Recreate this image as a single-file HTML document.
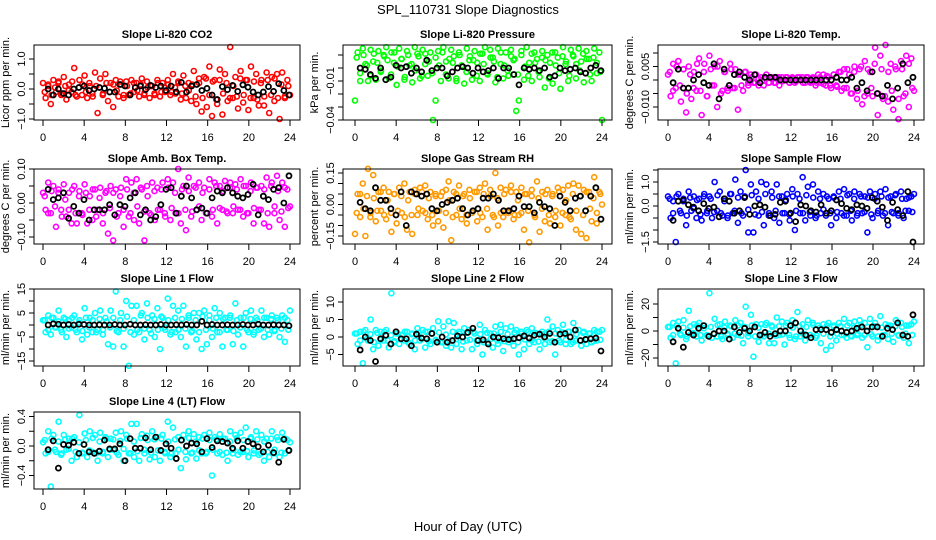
<!DOCTYPE html>
<html><head><meta charset="utf-8"><title>SPL_110731 Slope Diagnostics</title>
<style>
html,body{margin:0;padding:0;background:#fff;}
svg{display:block;font-family:"Liberation Sans",Arial,sans-serif;}
</style></head>
<body>
<svg id="chart" width="936" height="540" viewBox="0 0 936 540" xmlns="http://www.w3.org/2000/svg">
<text x="468" y="14" font-size="13" text-anchor="middle">SPL_110731  Slope Diagnostics</text>
<text x="468" y="531" font-size="13" text-anchor="middle">Hour of Day (UTC)</text>
</svg>
<script>
const hourTicks = [0,4,8,12,16,20,24];

const co2Color = [0.2,-0.3,0.1,-0.5,0.3,-0.1,0.25,-0.2,0.4,-0.35,0.15,-0.1,0.7,-0.25,0.3,-0.2,0.45,-0.3,0.1,-0.15,0.55,-0.8,0.35,-0.2,0.5,-0.4,0.2,-0.6,0.3,-0.25,0.15,-0.3,0.25,-0.2,0.3,-0.1,0.2,-0.25,0.35,-0.15,0.25,-0.3,0.1,-0.2,0.3,-0.25,0.2,-0.1,0.3,-0.2,0.5,-0.15,0.25,-0.35,0.45,-0.3,0.2,-0.4,0.6,-0.5,0.35,-0.75,0.4,-0.6,0.75,-0.9,0.3,-0.5,0.65,-0.85,0.5,-0.4,1.4,-0.3,0.4,-0.65,0.6,-0.45,0.3,-0.7,0.75,-0.3,0.5,-0.55,0.3,-0.55,0.55,-0.8,0.4,-0.4,0.5,-1.0,0.55,-0.3,0.3,-0.2];
const co2Core = [-0.1,0.15,-0.2,0.05,0.2,-0.15,0.1,-0.05,0.25,-0.2,0.05,0.15,-0.1,0.2,-0.25,0.1,0.05,-0.15,0.2,-0.1,0.15,-0.05,0.25,-0.2,0.1,-0.15,0.2,-0.05,0.15,-0.2,0.05,0.1,-0.15,0.2,-0.1,0.05,0.15,-0.1,0.05,0.2,-0.15,0.1,-0.05,0.15,-0.25,0.2,-0.3,0.35,-0.2,0.25,-0.35,0.3,-0.15,0.2,-0.3,0.1,-0.25,0.35,-0.2,0.3,-0.3,0.25,-0.35,0.2,-0.25,0.3,-0.2,0.35,-0.3,0.15,-0.25,0.1];
const co2Black = [0,-0.2,0,-0.15,-0.2,0,0.05,0.1,-0.05,0,0.05,0.02,-0.1,-0.1,0.15,0.1,-0.2,0.05,0.1,-0.02,0.12,0.05,0.1,-0.05,0.1,-0.1,0.22,-0.1,0.1,0.15,-0.05,0.02,-0.2,-0.35,0.08,-0.02,0.12,-0.08,0.14,0.06,-0.1,-0.2,-0.1,0.08,-0.08,0.18,-0.05,-0.2];

const presColor = [-0.025,0.012,-0.01,0.015,0.003,-0.01,0.014,0.005,-0.009,0.013,-0.002,0.01,0.016,-0.008,0.012,0.004,-0.013,0.015,0.007,-0.009,0.013,0.002,-0.011,0.016,0.011,-0.008,0.014,0.003,-0.006,0.012,-0.04,-0.025,0.013,-0.01,0.016,0.005,-0.008,0.014,0.009,-0.01,0.012,0.002,-0.012,0.015,0.006,-0.009,0.013,0.004,-0.01,0.011,0.016,-0.005,0.014,0.008,-0.011,0.015,0.003,-0.008,0.012,-0.006,0.014,0.006,-0.033,-0.025,0.013,-0.009,0.016,0.004,-0.01,0.012,0.007,-0.007,0.013,-0.015,0.01,0.004,-0.012,0.012,0.008,-0.016,0.016,0.003,-0.01,0.014,0.009,-0.008,0.015,0.005,-0.011,0.013,0.007,-0.01,0.015,-0.004,0.012,-0.04];
const presCore = [0.008,-0.004,0.01,0.002,-0.006,0.011,0.004,-0.003,0.009,0.006,-0.005,0.012,0.001,0.007,-0.007,0.01,0.003,-0.002,0.009,-0.006,0.011,0.005,-0.004,0.008,0.002,0.012,-0.005,0.007,0.004,-0.008,0.01,0.001,-0.003,0.009,0.006,-0.006,0.011,0.003,-0.004,0.008,0.005,-0.007,0.012,0.002,-0.002,0.009,0.007,-0.005,0.01,0.001,-0.006,0.011,0.004,-0.003,0.008,0.006,-0.008,0.012,0.002,-0.004,0.009,0.005,-0.006,0.01,0.003,-0.002,0.011,0.007,-0.005,0.008,0.004,-0.003];
const presBlack = [0,-0.001,-0.005,-0.008,0,-0.009,-0.007,0.002,0,0.001,-0.004,0,-0.003,0.006,-0.002,0,0,-0.006,-0.003,0,0.001,0,-0.004,0,-0.003,-0.002,0,-0.008,0,0,-0.005,-0.013,0,-0.001,0,-0.002,0,-0.007,-0.006,0,-0.002,-0.001,0,-0.003,-0.004,0,0.002,-0.002];

const tempColor = [0.002,-0.006,0.006,-0.003,0.007,-0.008,0.004,-0.012,0.005,-0.007,0.003,-0.004,0.008,-0.013,0.006,-0.006,0.009,-0.002,0.005,-0.010,0.007,-0.004,0.003,-0.003,0.006,-0.003,0.004,-0.011,0.002,-0.004,0.003,-0.002,0.002,-0.001,0.002,-0.002,0.001,-0.002,0.002,-0.001,0.001,-0.001,0.001,-0.002,0.001,0,0.001,-0.001,0.001,-0.001,0.001,0,0.001,-0.001,0.001,-0.001,0.001,-0.002,0.002,-0.001,0.002,-0.002,0.001,-0.003,0.002,-0.002,0.003,-0.004,0.004,-0.003,0.002,-0.005,0.005,-0.007,0.004,-0.009,0.007,-0.005,0.003,-0.006,0.012,-0.013,0.009,-0.007,0.013,-0.008,0.006,-0.011,0.004,-0.0145,0.007,-0.006,0.009,-0.01,0.008,-0.004];
const tempCore = [0.003,-0.004,0.005,-0.002,0.004,-0.005,0.002,-0.003,0.006,-0.004,0.003,-0.006,0.004,-0.002,0.005,-0.005,0.003,-0.004,0.004,-0.003,0.002,-0.002,0.003,-0.001,0.001,-0.001,0.0005,-0.0005,0.001,-0.001,0.0005,-0.001,0.001,-0.0005,0.001,-0.001,0.0005,-0.0005,0.001,-0.001,0.001,-0.0005,0.0005,-0.001,0.001,-0.0015,0.0015,-0.002,0.002,-0.0025,0.003,-0.003,0.004,-0.005,0.003,-0.004,0.005,-0.006,0.004,-0.003,0.006,-0.005,0.004,-0.006,0.003,-0.004,0.005,-0.007,0.004,-0.005,0.006,-0.003];
const tempBlack = [-0.001,0.004,-0.003,-0.003,0,0.002,-0.001,-0.002,0.006,-0.007,0.004,-0.002,0.002,0.003,0.001,0,0.002,-0.001,0.001,0.001,0.001,0,0,0,0,0,0,0,0,0,0,0,0.001,0,0,0.001,-0.003,-0.001,-0.004,0.003,-0.005,-0.006,-0.002,-0.007,-0.003,0.006,-0.001,0.001];

const ambColor = [0.03,-0.02,0.06,-0.03,0.05,-0.07,0.04,-0.02,0.055,-0.04,0.03,-0.06,0.05,-0.06,0.035,-0.03,0.055,-0.06,0.02,-0.05,0.04,-0.02,0.045,-0.06,0.03,-0.09,0.05,-0.11,0.04,-0.03,0.045,-0.07,0.07,-0.04,0.06,-0.05,0.07,-0.06,0.04,-0.11,0.05,-0.03,0.06,-0.05,0.045,-0.02,0.06,-0.04,0.07,-0.05,0.06,-0.03,0.1,-0.06,0.05,-0.08,0.075,-0.04,0.05,-0.02,0.06,-0.05,0.045,-0.03,0.07,-0.04,0.06,-0.06,0.05,-0.02,0.065,-0.03,0.06,-0.03,0.055,-0.02,0.07,-0.04,0.05,-0.03,0.06,-0.06,0.045,-0.02,0.05,-0.06,0.075,-0.07,0.06,-0.03,0.08,-0.05,0.06,-0.07,0.04,-0.01];
const ambCore = [0.02,-0.03,0.035,-0.01,0.03,-0.04,0.01,-0.02,0.04,-0.03,0.02,-0.035,0.03,-0.02,0.04,-0.04,0.015,-0.03,0.035,-0.015,0.03,-0.04,0.02,-0.02,0.04,-0.03,0.03,-0.01,0.045,-0.025,0.02,-0.035,0.035,-0.02,0.04,-0.03,0.045,-0.015,0.03,-0.03,0.04,-0.02,0.035,-0.025,0.045,-0.01,0.03,-0.03,0.04,-0.02,0.05,-0.015,0.035,-0.025,0.045,-0.01,0.04,-0.02,0.05,-0.03,0.035,-0.015,0.045,-0.02,0.04,-0.03,0.05,-0.01,0.035,-0.025,0.045,-0.015];
const ambBlack = [0.04,0.01,0.015,0.03,-0.045,-0.01,-0.03,0.01,-0.05,-0.02,-0.02,-0.02,-0.005,-0.035,-0.005,-0.01,0.015,0.03,-0.035,-0.02,-0.05,-0.04,-0.005,0.04,0.045,-0.03,0.02,0.05,0.015,-0.02,-0.015,-0.03,0.015,0.035,0.03,0.045,0.03,0.02,0.015,0.025,0.055,-0.035,0.02,0.01,0.04,0.045,0,0.08];

const rhColor = [-0.14,0.05,-0.06,0.1,-0.15,0.17,-0.04,0.14,-0.08,0.06,-0.03,0.08,-0.07,0.06,-0.13,0.05,-0.09,0.08,-0.04,0.1,-0.12,0.06,-0.14,0.07,-0.05,0.08,-0.03,0.09,-0.07,0.06,-0.1,0.05,-0.08,0.04,-0.11,0.07,0.11,-0.17,0.06,-0.05,0.09,-0.07,0.05,-0.09,0.07,-0.04,0.06,-0.08,0.08,-0.06,0.1,-0.12,0.07,-0.05,0.15,-0.1,0.08,-0.06,0.07,-0.04,0.09,-0.07,0.06,-0.05,0.08,-0.12,0.05,-0.18,0.07,-0.05,0.11,-0.13,0.06,-0.08,0.07,-0.09,0.05,-0.06,0.08,-0.1,0.07,-0.05,0.09,-0.07,0.1,-0.12,0.09,-0.14,0.07,-0.16,0.06,-0.08,0.13,-0.09,0.06,0];
const rhCore = [-0.04,0.05,-0.02,0.04,-0.06,0.03,-0.03,0.06,-0.05,0.02,-0.04,0.05,-0.03,0.04,-0.06,0.02,-0.05,0.05,-0.02,0.06,-0.04,0.03,-0.05,0.04,-0.03,0.06,-0.04,0.02,-0.06,0.05,-0.02,0.04,-0.05,0.03,-0.03,0.06,-0.04,0.05,-0.02,0.04,-0.06,0.03,-0.04,0.05,-0.03,0.06,-0.05,0.02,-0.04,0.05,-0.03,0.04,-0.06,0.03,-0.02,0.05,-0.05,0.04,-0.03,0.06,-0.04,0.02,-0.06,0.05,-0.03,0.04,-0.05,0.06,-0.02,0.03,-0.04,0.05];
const rhBlack = [0.01,-0.02,-0.03,0.08,0.02,0.02,-0.02,-0.05,0.06,-0.1,0.06,0.05,0.04,0.05,-0.02,-0.03,0,0.01,0.02,0.03,-0.02,-0.05,-0.03,-0.02,0.03,0.03,0.05,0.02,-0.03,-0.03,-0.02,0.04,-0.01,-0.01,-0.04,0.01,-0.01,-0.02,-0.1,0.04,0.01,-0.03,0.03,0.04,-0.03,0.04,0.08,-0.07];

const flowColor = [0.4,-0.5,0.2,-1.5,0.5,-0.3,0.3,-0.8,0.6,-0.2,0.4,-0.5,0.3,-0.6,0.5,-0.3,0.4,-0.5,1.0,-0.2,0.6,-0.4,0.3,-0.5,0.5,-0.3,1.1,-0.7,0.6,-0.4,1.5,-1.1,0.9,-1.1,0.6,-0.4,1.0,-0.8,0.9,-0.3,0.6,-0.5,0.9,-0.7,0.4,-0.3,0.5,-0.6,0.7,-1.0,0.5,-0.3,1.2,-0.6,0.8,-0.4,0.9,-0.5,0.6,-0.3,0.5,-0.4,0.3,-0.8,0.4,-0.5,0.6,-0.3,0.7,-0.4,0.5,-0.6,0.6,-0.4,0.5,-0.3,0.4,-1.1,0.6,-0.5,0.5,-0.3,0.6,-0.4,0.7,-0.8,0.4,-0.3,0.5,-0.4,0.6,-0.5,0.3,-0.2,0.4,0.5];
const flowCore = [0.3,-0.3,0.4,-0.2,0.2,-0.4,0.35,-0.1,0.25,-0.35,0.4,-0.2,0.3,-0.25,0.45,-0.3,0.2,-0.4,0.5,-0.2,0.35,-0.3,0.4,-0.15,0.45,-0.35,0.3,-0.25,0.5,-0.4,0.35,-0.2,0.4,-0.3,0.25,-0.35,0.4,-0.2,0.3,-0.3,0.45,-0.25,0.35,-0.4,0.3,-0.15,0.4,-0.3,0.35,-0.25,0.3,-0.4,0.45,-0.2,0.3,-0.3,0.4,-0.25,0.35,-0.35,0.3,-0.2,0.4,-0.3,0.35,-0.25,0.45,-0.3,0.3,-0.2,0.35,-0.25];
const flowBlack = [-0.6,0.2,0.25,0.05,-0.05,-0.2,0.1,-0.1,-0.05,-0.45,0.3,0.2,-0.3,-0.2,0.35,-0.35,0,0.05,-0.05,-0.4,-0.35,0.15,0.2,-0.3,-0.65,0.05,0,-0.2,-0.25,0.05,-0.3,-0.2,0.25,0.1,-0.1,-0.15,0.05,0,-0.1,0.35,0.2,-0.05,-0.6,0.15,-0.15,-0.4,0.6,-1.5];

const line1Color = [2,-3,4,-4,3,-1,6,-2,3,-5,2,-1,4,-3,2,-6,7,-4,3,-3,5,-2,6,-4,3,-8,6,-9,14,-3,5,-9,10,-17,8,-4,8,-3,5,-6,9,-2,4,-5,7,-10,3,-2,11,-4,8,-3,6,-5,8,-9,4,-3,5,-6,5,-10,6,-8,4,-5,7,-3,5,-9,3,-2,4,-8,9,-4,3,-9,5,-3,6,-4,3,-2,6,-5,3,-4,4,-2,3,-5,4,-7,2,6];
const line1Core = [2,-2,3,-1,1.5,-3,2.5,-1.5,3,-2,1,-2.5,3,-1,2,-3,2.5,-2,1.5,-1,3,-2.5,2,-1.5,3.5,-3,2,-2,4,-1.5,3,-3.5,2.5,-2,3.5,-1,2,-3,3,-2,2.5,-1.5,3,-2.5,2,-3,3.5,-2,2,-1.5,3,-3,2.5,-2,3,-2.5,2,-1,3,-2,2.5,-3,2,-1.5,3,-2,2.5,-2.5,2,-1.5,3,-2];
const line1Black = [0,0.5,0.3,0,0.2,0,0.3,0.2,0,0,0.1,0,0,0.2,0,0,0.3,0,0,0.1,0,0,0.2,0,0,0.1,0,0.2,0,0,1.5,0,0.2,0,0,0.1,0,0,0.2,0,0,0.3,0,0,0.1,0,0,-0.3];

const line2Color = [1,-2,1.5,-7.5,2,-1,5,-3.5,2,-2.5,1.5,-1,2,-3,12.5,-1.5,1,-2,0.5,-1,1.5,-2,1,-3.5,2.5,-1,2,-3,1.5,-2,2.5,-1,4.5,-1.5,3,-2.5,4.5,-3,4,-2,1.5,-3.5,2.5,-1,2,-3.5,1,-2,3.5,-5,2,-1.5,1,-3,3,-2,3.5,-4,2.5,-1.5,3,-2.5,2,-5,1.5,-3.5,2,-2,2.5,-1.5,1,-3.5,1.5,-2,5,-1.5,3,-5,2,-1.5,3.5,-2,1.5,-2,4,-1,2,-2.5,1.5,-2,1,-1.5,2,-1,1.5,2];
const line2Core = [1,-1,1.5,-0.5,0.8,-1.5,1.2,-0.8,1.5,-1,0.5,-1.2,1,-0.6,1.5,-1.5,0.8,-1,1.2,-0.5,1.5,-1.2,1,-0.8,1.3,-1.5,0.7,-1,1.5,-0.6,1,-1.3,1.2,-0.8,1.5,-1,0.8,-1.5,1.2,-0.6,1,-1,1.5,-1.2,0.8,-0.8,1.3,-1.5,1,-0.7,1.5,-1,1.2,-1.3,0.8,-0.6,1.5,-1.2,1,-1,1.3,-0.8,1.5,-1.5,0.8,-1,1.2,-0.7,1,-1.2,1.5,-0.8];
const line2Black = [-3.7,0,-1,-7,-0.5,0.5,-2,1.5,-0.5,-0.5,-2.5,0.8,-0.3,-0.5,1,-1.5,0,-1.5,-1,0.3,0,1.3,2.5,-1,-0.8,-2,0,-0.2,-0.5,-0.7,-0.5,-0.2,0.3,-0.3,0.5,0.8,0,1,-1.5,0.8,1,0,2,-1,-0.7,-0.5,-0.3,-4];

const line3Color = [3,-5,6,-24,7,-3,8,-6,15,-2,5,-4,6,-7,4,-3,28,-5,9,-4,5,-6,7,-2,4,-5,8,-3,6,-9,18,-4,12,-19,5,-8,5,-4,6,-9,4,-9,10,-3,7,-10,6,-5,8,-6,14,-4,5,-7,8,-3,6,-5,4,-9,5,-14,6,-11,4,-7,6,-3,9,-5,6,-4,7,-3,8,-5,6,-12,9,-4,6,-7,11,-3,5,-6,4,-8,8,-3,6,-5,4,-9,5,7];
const line3Core = [3,-3,4,-2,2.5,-4,3.5,-1.5,4,-3,2,-3.5,3,-2,4.5,-4,2.5,-3,3.5,-2,4,-3.5,3,-1.5,4,-4,2.5,-3,4.5,-2,3,-3.5,3.5,-2.5,4,-3,2.5,-4,3.5,-2,3,-3,4.5,-3.5,2.5,-2,4,-4,3,-2,3.5,-3,4,-3.5,2.5,-2,4.5,-3,3,-2.5,3.5,-4,2.5,-3,4,-2,3.5,-3.5,3,-2,4,-3];
const line3Black = [-8,2,-12,-1,-3,2,4,-4,-2,0,0,-6,3,-1,2,0,3,-3,-1,-4,-2,0,0,4,6,0,-3,-5,1,1,1,-1,1,0,-1,0,2,3,0,3,3,-4,2,1,6,-3,-4,12];

const line4Color = [0.05,-0.1,0.2,-0.55,0.15,-0.08,0.33,-0.12,0.15,-0.05,0.1,-0.2,0.12,-0.15,0.42,-0.1,0.17,-0.15,0.2,-0.08,0.15,-0.2,0.18,-0.1,0.12,-0.15,0.1,-0.05,0.18,-0.12,0.2,-0.2,0.15,-0.1,0.3,-0.15,0.3,-0.2,0.16,-0.1,0.14,-0.18,0.2,-0.15,0.12,-0.2,0.15,-0.1,0.33,-0.15,0.25,-0.1,0.12,-0.3,0.15,-0.18,0.2,-0.1,0.16,-0.17,0.12,-0.1,0.15,-0.08,0.18,-0.4,0.12,-0.1,0.16,-0.12,0.1,-0.2,0.2,-0.1,0.15,-0.12,0.18,-0.08,0.25,-0.15,0.12,-0.1,0.2,-0.12,0.15,-0.2,0.1,-0.15,0.2,-0.1,0.12,-0.15,0.18,-0.1,0.08,0.05];
const line4Core = [0.08,-0.08,0.1,-0.05,0.06,-0.1,0.09,-0.04,0.1,-0.08,0.05,-0.09,0.08,-0.06,0.11,-0.1,0.06,-0.08,0.1,-0.05,0.09,-0.09,0.07,-0.04,0.1,-0.1,0.06,-0.07,0.11,-0.05,0.08,-0.09,0.09,-0.06,0.1,-0.08,0.06,-0.1,0.09,-0.05,0.08,-0.08,0.11,-0.09,0.06,-0.06,0.1,-0.1,0.08,-0.05,0.09,-0.08,0.1,-0.09,0.06,-0.05,0.11,-0.08,0.08,-0.07,0.1,-0.06,0.09,-0.1,0.06,-0.08,0.1,-0.05,0.08,-0.09,0.1,-0.06];
const line4Black = [-0.05,0.07,-0.3,0.02,0.01,0.05,-0.1,0.02,-0.08,-0.1,-0.07,0.08,-0.04,-0.04,0.03,-0.2,0.1,-0.03,-0.03,0.11,-0.05,0.12,-0.06,0.03,-0.03,-0.17,0.08,0,0.04,0.03,-0.08,0.1,-0.02,0.07,0.06,0.04,-0.03,0.07,-0.03,0.06,0.03,-0.01,-0.08,0.01,-0.09,-0.22,0.09,-0.06];

const cols = [{l:34,r:300,x0:43,x1:290},{l:343,r:612,x0:355,x1:602},{l:658,r:924,x0:668,x1:914}];
const rows = [{t:45,b:120},{t:169,b:244},{t:289,b:366},{t:412,b:489}];
const panels = [
 {name:'co2',title:'Slope Li-820 CO2',ylab:'Licor ppm per min.',col:0,row:0,color:'#ff0000',c:co2Color,m:co2Core,k:co2Black,zeroPx:89,pxPerUnit:30,ticks:[-1,-0.5,0,0.5,1],labels:[[-1,'\u22121.0'],[0,'0.0'],[1,'1.0']]},
 {name:'pressure',title:'Slope Li-820 Pressure',ylab:'kPa per min.',col:1,row:0,color:'#00ff00',c:presColor,m:presCore,k:presBlack,zeroPx:68,pxPerUnit:1300,ticks:[-0.04,-0.03,-0.02,-0.01,0,0.01],labels:[[-0.04,'\u22120.04'],[-0.01,'\u22120.01']]},
 {name:'temp',title:'Slope Li-820 Temp.',ylab:'degrees C per min.',col:2,row:0,color:'#ff00ff',c:tempColor,m:tempCore,k:tempBlack,zeroPx:80,pxPerUnit:2700,ticks:[-0.01,-0.005,0,0.005,0.01],labels:[[-0.01,'\u22120.010'],[0.005,'0.005']]},
 {name:'amb-box-temp',title:'Slope Amb. Box Temp.',ylab:'degrees C per min.',col:0,row:1,color:'#ff00ff',c:ambColor,m:ambCore,k:ambBlack,zeroPx:203,pxPerUnit:340,ticks:[-0.1,-0.05,0,0.05,0.1],labels:[[-0.1,'\u22120.10'],[0,'0.00'],[0.1,'0.10']]},
 {name:'gas-stream-rh',title:'Slope Gas Stream RH',ylab:'percent per min.',col:1,row:1,color:'#ff9900',c:rhColor,m:rhCore,k:rhBlack,zeroPx:204.5,pxPerUnit:210,ticks:[-0.15,-0.1,-0.05,0,0.05,0.1,0.15],labels:[[-0.15,'\u22120.15'],[0,'0.00'],[0.15,'0.15']]},
 {name:'sample-flow',title:'Slope Sample Flow',ylab:'ml/min per min.',col:2,row:1,color:'#0000ff',c:flowColor,m:flowCore,k:flowBlack,zeroPx:206,pxPerUnit:24,ticks:[-1.5,-1,-0.5,0,0.5,1,1.5],labels:[[-1.5,'\u22121.5'],[0,'0.0'],[1,'1.0']]},
 {name:'line1-flow',title:'Slope Line 1 Flow',ylab:'ml/min per min.',col:0,row:2,color:'#00ffff',c:line1Color,m:line1Core,k:line1Black,zeroPx:325,pxPerUnit:2.4,ticks:[-15,-10,-5,0,5,10,15],labels:[[-15,'\u221215'],[-5,'\u22125'],[5,'5'],[15,'15']]},
 {name:'line2-flow',title:'Slope Line 2 Flow',ylab:'ml/min per min.',col:1,row:2,color:'#00ffff',c:line2Color,m:line2Core,k:line2Black,zeroPx:337,pxPerUnit:3.5,ticks:[-5,0,5,10],labels:[[-5,'\u22125'],[0,'0'],[5,'5'],[10,'10']]},
 {name:'line3-flow',title:'Slope Line 3 Flow',ylab:'ml/min per min.',col:2,row:2,color:'#00ffff',c:line3Color,m:line3Core,k:line3Black,zeroPx:331,pxPerUnit:1.35,ticks:[-20,-10,0,10,20],labels:[[-20,'\u221220'],[0,'0'],[20,'20']]},
 {name:'line4-flow',title:'Slope Line 4 (LT) Flow',ylab:'ml/min per min.',col:0,row:3,color:'#00ffff',c:line4Color,m:line4Core,k:line4Black,zeroPx:446,pxPerUnit:73.75,ticks:[-0.4,-0.2,0,0.2,0.4],labels:[[-0.4,'\u22120.4'],[0,'0.0'],[0.4,'0.4']]}
];

const NS='http://www.w3.org/2000/svg';
const svg=document.getElementById('chart');
function mk(tag,attrs,parent){const e=document.createElementNS(NS,tag);for(const k in attrs)e.setAttribute(k,attrs[k]);parent.appendChild(e);return e;}

panels.forEach(p=>{
  const C=cols[p.col],R=rows[p.row];
  const g=mk('g',{},svg);
  
  
  const xs=h=>C.x0+(C.x1-C.x0)*h/24;
  const ys=v=>p.zeroPx-v*p.pxPerUnit;
  const t=mk('text',{x:(C.l+C.r)/2,y:R.t-7,'font-size':11,'font-weight':'bold','text-anchor':'middle'},g);
  
  
  t.textContent=p.title;
  const pts=mk('g',{fill:'none'},g);
  
  
  const n=p.c.length;
  p.c.forEach((v,i)=>{
    const c=mk('circle',{cx:xs(i*24/(n-1)),cy:ys(v),r:2.5,stroke:p.color,'stroke-width':1.6},pts);
    
    
  });
  const q=p.m.length;
  p.m.forEach((v,i)=>{
    const c=mk('circle',{cx:xs((i+0.5)*24/q),cy:ys(v),r:2.5,stroke:p.color,'stroke-width':1.6},pts);
    
    
  });
  const m=p.k.length;
  p.k.forEach((v,i)=>{
    const c=mk('circle',{cx:xs(0.5+i*23.4/(m-1)),cy:ys(v),r:2.5,stroke:'#000','stroke-width':1.8},pts);
    
    
  });
  const b=mk('rect',{x:C.l,y:R.t,width:C.r-C.l,height:R.b-R.t,fill:'none',stroke:'#000','stroke-width':1},g);
  
  
  const xa=mk('g',{},g);
  
  
  hourTicks.forEach(h=>{
    mk('line',{x1:xs(h),x2:xs(h),y1:R.b,y2:R.b+6,stroke:'#000'},xa);
    const tl=mk('text',{x:xs(h),y:R.b+21,'font-size':11,'text-anchor':'middle'},xa);
    
    
    tl.textContent=h;
  });
  const ya=mk('g',{},g);
  
  
  p.ticks.forEach(v=>{mk('line',{x1:C.l-5,x2:C.l,y1:ys(v),y2:ys(v),stroke:'#000'},ya);});
  p.labels.forEach(([v,s])=>{
    const yl=mk('text',{x:0,y:0,'font-size':11,'text-anchor':'middle',transform:`translate(${C.l-9},${ys(v)}) rotate(-90)`},ya);
    
    
    yl.textContent=s;
  });
  const yt=mk('text',{x:0,y:0,'font-size':11,'text-anchor':'middle',transform:`translate(${C.l-25},${(R.t+R.b)/2}) rotate(-90)`},g);
  
  
  yt.textContent=p.ylab;
});
</script>
</body></html>
